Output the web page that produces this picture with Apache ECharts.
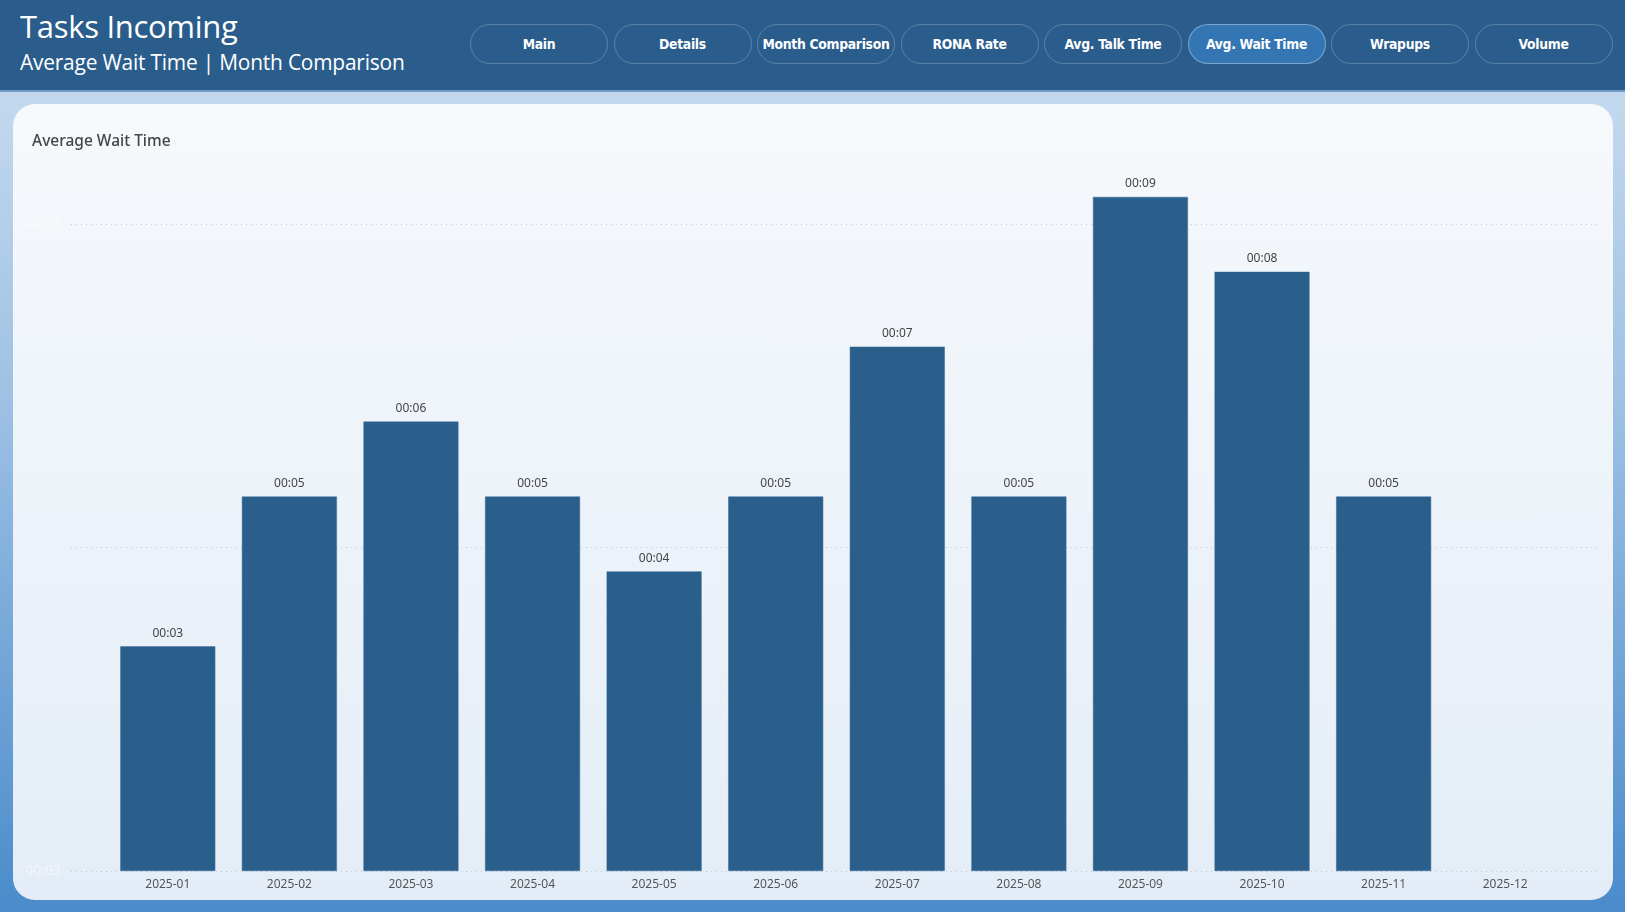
<!DOCTYPE html>
<html>
<head>
<meta charset="utf-8">
<script src="https://cdn.jsdelivr.net/npm/echarts@6/dist/echarts.min.js"></script>
<style>
  html, body { margin: 0; padding: 0; width: 1625px; height: 912px; overflow: hidden; }
  body { position: relative; background: linear-gradient(180deg, #cfe0f1 0%, #9cc0e4 45%, #4a8bcb 100%); font-family: "Noto Sans", "Open Sans", sans-serif; }
  #header { position: absolute; left: 0; top: 0; width: 1625px; height: 90px; background: #2a5d8c; border-bottom: 2px solid #6f9bc6; }
  #title { position: absolute; left: 20px; top: 5px; color: #fff; font-size: 31px; font-family: "Open Sans", "Noto Sans", sans-serif; letter-spacing: -0.3px; }
  #subtitle { position: absolute; left: 20px; top: 48px; color: #fff; font-size: 20.9px; font-family: "Open Sans", "Noto Sans", sans-serif; letter-spacing: -0.2px; }
  .btn { position: absolute; top: 24px; width: 136px; height: 38px; border: 1px solid rgba(255,255,255,0.22); border-radius: 20px; color: #fff; font-family: "DejaVu Sans Condensed", "Lato", sans-serif; font-weight: bold; font-size: 13.8px; text-align: center; line-height: 38px; letter-spacing: -0.3px; }
  .btn.active { background: #3476b3; border-color: rgba(255,255,255,0.35); }
  #card { position: absolute; left: 13px; top: 104px; width: 1600px; height: 796px; border-radius: 22px; background: linear-gradient(180deg, #f6f9fc 0%, #e4edf7 100%); }
  #chart { position: absolute; left: 0; top: 0; width: 1625px; height: 912px; }
</style>
</head>
<body>
<div id="header">
  <div id="title">Tasks Incoming</div>
  <div id="subtitle">Average Wait Time | Month Comparison</div>
</div>
<div id="card"></div>
<div id="chart"></div>
<script>
const navButtons = ['Main', 'Details', 'Month Comparison', 'RONA Rate', 'Avg. Talk Time', 'Avg. Wait Time', 'Wrapups', 'Volume'];
const activeButton = 'Avg. Wait Time';
const categories = ['2025-01','2025-02','2025-03','2025-04','2025-05','2025-06','2025-07','2025-08','2025-09','2025-10','2025-11','2025-12'];
// average wait time in seconds
const waitSeconds = [3, 5, 6, 5, 4, 5, 7, 5, 9, 8, 5, null];
const yTickLabels = ['00:03', '', '00:03'];
const chartTitle = 'Average Wait Time';

// nav buttons
navButtons.forEach((name, i) => {
  const d = document.createElement('div');
  d.className = 'btn' + (name === activeButton ? ' active' : '');
  d.style.left = (470 + i * 143.5) + 'px';
  d.textContent = name;
  document.getElementById('header').appendChild(d);
});

function fmt(s) {
  const m = Math.floor(s / 60), sec = Math.round(s % 60);
  return String(m).padStart(2, '0') + ':' + String(sec).padStart(2, '0');
}

const chart = echarts.init(document.getElementById('chart'), null, { renderer: 'canvas' });
const font = '"Noto Sans", "Open Sans", sans-serif';
chart.setOption({
  backgroundColor: 'transparent',
  animation: false,
  title: {
    text: chartTitle, left: 27, top: 129,
    textStyle: { color: '#454545', fontSize: 15.5, fontWeight: 500, fontFamily: font }
  },
  grid: [
    { left: 107, right: 59, top: 122, bottom: 41 },
    { left: 71, right: 24, top: 122, bottom: 41 }
  ],
  xAxis: [
    {
      type: 'category', data: categories, gridIndex: 0,
      axisLine: { show: false }, axisTick: { show: false },
      axisLabel: { color: '#555', fontSize: 12, fontFamily: font, margin: 8 }
    },
    { type: 'category', data: categories, gridIndex: 1, show: false }
  ],
  yAxis: [
    { type: 'value', gridIndex: 0, min: 0, max: 10, show: false },
    {
      type: 'value', gridIndex: 1, min: 0, max: 10, interval: 4.32,
      axisLine: { show: false }, axisTick: { show: false },
      axisLabel: {
        color: 'rgba(255,255,255,0.55)', fontSize: 14, fontFamily: font, margin: 10,
        formatter: (v, i) => yTickLabels[i] || ''
      },
      splitLine: { lineStyle: { color: ['#c5cad1', '#c5cad1', '#c5cad1', 'rgba(0,0,0,0)'], type: [1, 4], width: 1 } }
    }
  ],
  series: [{
    type: 'bar', xAxisIndex: 0, yAxisIndex: 0,
    data: waitSeconds,
    barWidth: 95,
    itemStyle: { color: '#2a5e8b', borderColor: '#3a6d99', borderWidth: 0.5 },
    label: {
      show: true, position: 'top', distance: 7,
      color: '#444', fontSize: 12, fontFamily: font,
      formatter: p => fmt(p.value)
    }
  }]
});
</script>
</body>
</html>
